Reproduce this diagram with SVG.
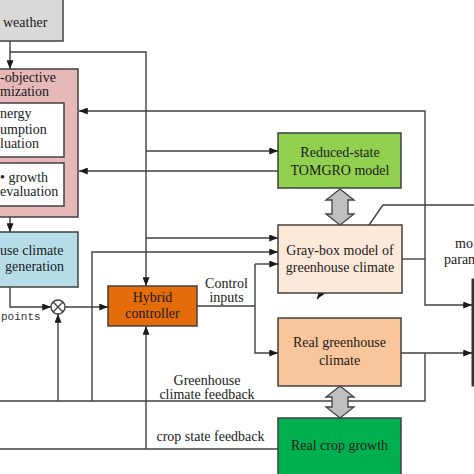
<svg xmlns="http://www.w3.org/2000/svg" width="474" height="474" viewBox="0 0 474 474" font-family="Liberation Serif, Times New Roman, serif">
<style>
.bx{stroke:#404040;stroke-width:1.5}
.t{font-family:'Liberation Serif','Times New Roman',serif;font-size:14px;fill:#1a1a1a}
.c{text-anchor:middle}
.ln{fill:none;stroke:#404040;stroke-width:1.4}
.dbl{fill:#bfbfbf;stroke:#404040;stroke-width:1.3}
</style>
<defs>
<marker id="ah" viewBox="0 0 10 8" refX="10" refY="4" markerWidth="9" markerHeight="7" markerUnits="userSpaceOnUse" orient="auto">
<path d="M0,0 L10,4 L0,8 z" fill="#1a1a1a"/>
</marker>
</defs>
<rect width="474" height="474" fill="#fff"/>

<g id="connectors">
<path class="ln" d="M10,41 V69" marker-end="url(#ah)"/>
<path class="ln" d="M10,52 H146 V286" marker-end="url(#ah)"/>
<path class="ln" d="M146,151 H278" marker-end="url(#ah)"/>
<path class="ln" d="M146,238 H278" marker-end="url(#ah)"/>
<path class="ln" d="M278,171 H79" marker-end="url(#ah)"/>
<path class="ln" d="M402,259 H425"/>
<path class="ln" d="M425,259 V111 H79" marker-end="url(#ah)"/>
<path class="ln" d="M425,259 V305 H472" marker-end="url(#ah)"/>
<path class="ln" d="M10,217 V232" marker-end="url(#ah)"/>
<path class="ln" d="M10,287 V307 H51" marker-end="url(#ah)"/>
<path class="ln" d="M65,307 H108" marker-end="url(#ah)"/>
<path class="ln" d="M401,353 H472" marker-end="url(#ah)"/>
<path class="ln" d="M425,353 V401 H-2"/>
<path class="ln" d="M58,401 V314" marker-end="url(#ah)"/>
<path class="ln" d="M92,401 V252 H278" marker-end="url(#ah)"/>
<path class="ln" d="M146,449 V326" marker-end="url(#ah)"/>
<path class="ln" d="M278,449 H-2"/>
<path class="ln" d="M197,306 H255"/>
<path class="ln" d="M255,264 H278" marker-end="url(#ah)"/>
<path class="ln" d="M255,264 V353 H278" marker-end="url(#ah)"/>
<path class="ln" d="M476,205 H383 L317,299" marker-end="url(#ah)"/>
<circle cx="58" cy="307" r="7" fill="#fff" stroke="#404040" stroke-width="1.4"/>
<path class="ln" d="M53,302 L63,312 M63,302 L53,312"/>
<polygon class="dbl" points="340,189 354,200 348,200 348,214 354,214 340,225 326,214 332,214 332,200 326,200"/>
<polygon class="dbl" points="340,386 354,397 348,397 348,407 354,407 340,418 326,407 332,407 332,397 326,397"/>
</g>

<g id="weather">
<rect class="bx" x="-5" y="-5" width="68" height="46" fill="#d9d9d9" stroke-width="2"/>
<text class="t" x="3" y="27">weather</text>
</g>

<g id="multi-objective">
<rect class="bx" x="-5" y="69" width="83" height="148" fill="#e6b9b8"/>
<text class="t" x="0" y="82">-objective</text>
<text class="t" x="0" y="96">mization</text>
</g>

<g id="energy-evaluation">
<rect class="bx" x="-5" y="103" width="69" height="54" fill="#fff"/>
<text class="t" x="0" y="118">nergy</text>
<text class="t" x="0" y="134">umption</text>
<text class="t" x="0" y="148">luation</text>
</g>

<g id="growth-evaluation">
<rect class="bx" x="-5" y="163" width="69" height="43" fill="#fff"/>
<text class="t" x="0" y="182">• growth</text>
<text class="t" x="0" y="196">evaluation</text>
</g>

<g id="climate-generation">
<rect class="bx" x="-5" y="232" width="83" height="55" fill="#b7dee8"/>
<text class="t" x="0" y="255">use climate</text>
<text class="t" x="5" y="271">generation</text>
</g>

<g id="setpoints-label">
<text x="1" y="320" style="font-family:'Liberation Mono','Courier New',monospace;font-size:11px;fill:#333">points</text>
</g>

<g id="hybrid-controller">
<rect class="bx" x="108" y="286" width="89" height="40" fill="#e46c0a"/>
<text class="t c" x="152.5" y="302">Hybrid</text>
<text class="t c" x="152.5" y="318">controller</text>
</g>

<g id="control-inputs-label">
<text class="t c" x="226.5" y="288">Control</text>
<text class="t c" x="226.5" y="302">inputs</text>
</g>

<g id="tomgro">
<rect class="bx" x="278" y="133" width="123" height="55" fill="#92d050"/>
<text class="t c" x="340" y="157">Reduced-state</text>
<text class="t c" x="340" y="175">TOMGRO model</text>
</g>

<g id="gray-box">
<rect class="bx" x="278" y="225" width="124" height="68" fill="#fce9d9"/>
<text class="t c" x="340" y="255">Gray-box model of</text>
<text class="t c" x="340" y="272">greenhouse climate</text>
</g>

<g id="real-climate">
<rect class="bx" x="278" y="318" width="123" height="68" fill="#f9c59b"/>
<text class="t c" x="339.5" y="347">Real greenhouse</text>
<text class="t c" x="339.5" y="365">climate</text>
</g>

<g id="real-crop">
<rect class="bx" x="278" y="418" width="123" height="60" fill="#00b050"/>
<text class="t c" x="339.5" y="450">Real crop growth</text>
</g>

<g id="feedback-labels">
<text class="t c" x="207" y="385">Greenhouse</text>
<text class="t c" x="207" y="399">climate feedback</text>
<text class="t c" x="210.5" y="441">crop state feedback</text>
<text class="t" x="455" y="248">mo</text>
<text class="t" x="444" y="264">param</text>
</g>

<g id="parameter-estimation">
<rect x="473" y="280" width="20" height="105" fill="#fff" stroke="#333" stroke-width="3"/>
</g>
</svg>
